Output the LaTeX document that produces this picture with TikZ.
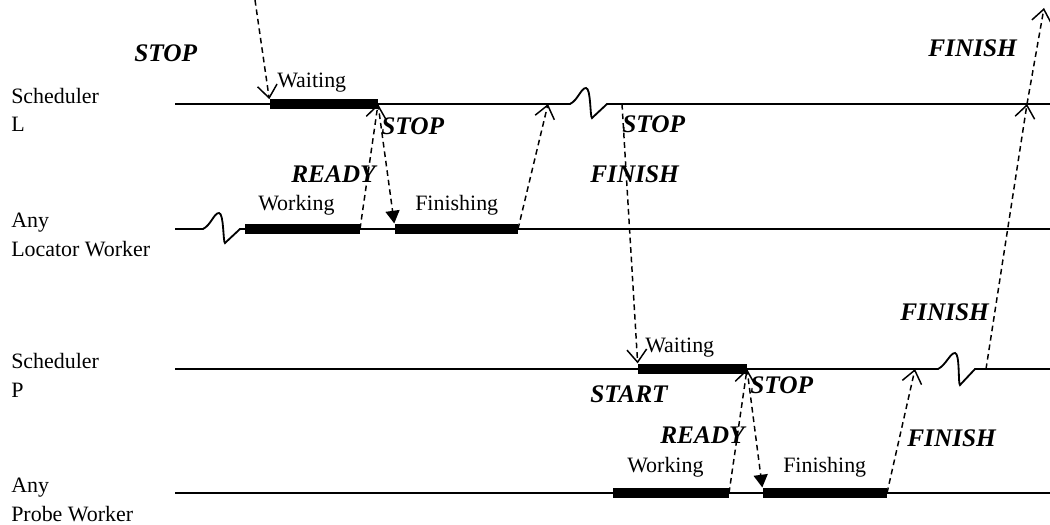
\documentclass[tikz,border=0pt]{standalone}
\usepackage{fontspec}
\setmainfont{Liberation Serif}
\usetikzlibrary{arrows.meta}

\begin{document}
\begin{tikzpicture}[x=0.025cm,y=-0.025cm,
  timeline/.style={line width=1.3pt},
  busy/.style={line width=7.5pt},
  msg/.style={dash pattern=on 4pt off 2.8pt,line width=1.05pt,-{Straight Barb[length=9pt,width=14pt]}},
  stopmsg/.style={dash pattern=on 4pt off 2.8pt,line width=1.05pt,-{Triangle[length=9pt,width=10pt]}},
  lane/.style={anchor=base west,align=left,inner sep=0pt,font=\fontsize{15.6}{20}\selectfont},
  state/.style={anchor=base west,inner sep=0pt,font=\fontsize{15.6}{20}\selectfont},
  sig/.style={anchor=base west,inner sep=0pt,font=\fontsize{18}{20}\selectfont\bfseries\itshape}]

\useasboundingbox (0,0) rectangle (1050,525);

% lanes
\node[lane] (laneSL) at (11,132) {Scheduler\\L};
\node[lane] (laneLW) at (11,256) {Any\\Locator Worker};
\node[lane] (laneSP) at (11,397) {Scheduler\\P};
\node[lane] (lanePW) at (11,521) {Any\\Probe Worker};

\draw[timeline] (175,104) -- (570,104) .. controls (578,100) and (581,88) .. (586,88)
  .. controls (591,88) and (590,118) .. (592,118) -- (607,104) -- (1050,104);
\draw[timeline] (175,229) -- (203,229) .. controls (211,225) and (214,213) .. (219,213)
  .. controls (224,213) and (223,243) .. (225,243) -- (240,229) -- (1050,229);
\draw[timeline] (175,369) -- (938,369) .. controls (946,365) and (950,353) .. (955,353)
  .. controls (960,353) and (958,385) .. (960,385) -- (975,369) -- (1050,369);
\draw[timeline] (175,493) -- (1050,493);

% busy periods
\coordinate (waitLs) at (270,104); \coordinate (waitLe) at (378,104);
\coordinate (workLs) at (245,229); \coordinate (workLe) at (360,229);
\coordinate (finLs) at (395,229);  \coordinate (finLe) at (518,229);
\coordinate (waitPs) at (638,369); \coordinate (waitPe) at (747,369);
\coordinate (workPs) at (613,493); \coordinate (workPe) at (729,493);
\coordinate (finPs) at (763,493);  \coordinate (finPe) at (887,493);

\draw[busy] (waitLs) -- (waitLe);
\draw[busy] (workLs) -- (workLe);
\draw[busy] (finLs) -- (finLe);
\draw[busy] (waitPs) -- (waitPe);
\draw[busy] (workPs) -- (workPe);
\draw[busy] (finPs) -- (finPe);

% messages
\coordinate (stopIn) at (255,0);
\coordinate (doneL) at (548,104);
\coordinate (stopL) at (622,104);
\coordinate (doneP) at (915,369);
\coordinate (fromP) at (986,369);
\coordinate (upL) at (1027,104);
\coordinate (finOut) at (1044,8);

\draw[msg,shorten >=3.5pt] (stopIn) -- (waitLs);
\draw[msg] (workLe) -- (waitLe);
\draw[stopmsg,shorten >=4pt] (waitLe) -- (finLs);
\draw[msg] (finLe) -- (doneL);
\draw[msg,shorten >=4pt] (stopL) -- (waitPs);
\draw[msg] (workPe) -- (waitPe);
\draw[stopmsg,shorten >=4pt] (waitPe) -- (finPs);
\draw[msg] (finPe) -- (doneP);
\draw[msg] (fromP) -- (upL);
\draw[msg] (upL) -- (finOut);

% labels
\node[sig] (sigStop1) at (134,62) {STOP};
\node[state] (txtWaitL) at (277,88) {Waiting};
\node[sig] (sigStop2) at (381,135) {STOP};
\node[sig] (sigReadyL) at (291,182) {READY};
\node[state] (txtWorkL) at (258,210) {Working};
\node[state] (txtFinL) at (415,210) {Finishing};
\node[sig] (sigStop3) at (622,133) {STOP};
\node[sig] (sigFin1) at (590,182) {FINISH};
\node[sig] (sigFin2) at (928,57) {FINISH};
\node[sig] (sigFin3) at (900,320) {FINISH};
\node[state] (txtWaitP) at (645,352) {Waiting};
\node[sig] (sigStart) at (590,402) {START};
\node[sig] (sigStop4) at (750,393) {STOP};
\node[sig] (sigReadyP) at (660,443) {READY};
\node[sig] (sigFin4) at (907,446) {FINISH};
\node[state] (txtWorkP) at (627,472) {Working};
\node[state] (txtFinP) at (783,472) {Finishing};
\end{tikzpicture}
\end{document}
